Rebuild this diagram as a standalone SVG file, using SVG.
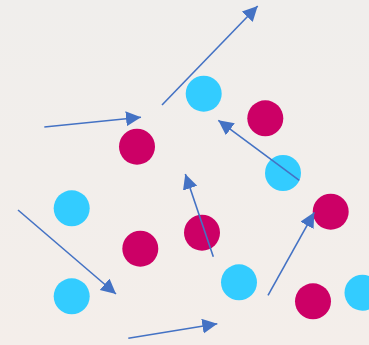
<svg xmlns="http://www.w3.org/2000/svg" width="369" height="345" viewBox="0 0 369 345">
<style>
.cy{fill:#33CCFF}
.mg{fill:#CC0066}
.ar{stroke:#4472C4;stroke-width:1.6;fill:none;marker-end:url(#ah)}
</style>
<defs>
<marker id="ah" markerUnits="userSpaceOnUse" markerWidth="16" markerHeight="16" refX="15" refY="7.5" orient="auto">
<path d="M0,0 L15,7.5 L0,15 Z" fill="#4472C4"/>
</marker>
<linearGradient id="bg" x1="0" y1="0" x2="0" y2="1">
<stop offset="0" stop-color="#F0EEEC"/>
<stop offset="1" stop-color="#F4EEEA"/>
</linearGradient>
</defs>
<rect width="369" height="345" fill="url(#bg)"/>
<g id="c1"><circle class="cy" cx="203.7" cy="93.7" r="18"/></g>
<g id="c2"><circle class="cy" cx="283" cy="173" r="18"/></g>
<g id="c3"><circle class="cy" cx="71.7" cy="208.3" r="18"/></g>
<g id="c4"><circle class="cy" cx="71.7" cy="296.3" r="18"/></g>
<g id="c5"><circle class="cy" cx="239" cy="282.3" r="18"/></g>
<g id="c6"><circle class="cy" cx="362.5" cy="292.7" r="18"/></g>
<g id="m1"><circle class="mg" cx="265.3" cy="118.3" r="18"/></g>
<g id="m2"><circle class="mg" cx="137" cy="146.7" r="18"/></g>
<g id="m3"><circle class="mg" cx="330.7" cy="211.7" r="18"/></g>
<g id="m4"><circle class="mg" cx="140.3" cy="248.7" r="18"/></g>
<g id="m5"><circle class="mg" cx="202" cy="232.7" r="18"/></g>
<g id="m6"><circle class="mg" cx="313" cy="301.3" r="18"/></g>
<g id="connectors">
<line class="ar" x1="162" y1="105" x2="257.7" y2="6"/>
<line class="ar" x1="44.3" y1="127" x2="141" y2="117.3"/>
<line class="ar" x1="299.3" y1="180.3" x2="218.3" y2="120.3"/>
<line class="ar" x1="213.3" y1="256.7" x2="185.3" y2="174"/>
<line class="ar" x1="18" y1="210" x2="116" y2="294"/>
<line class="ar" x1="268" y1="295.3" x2="314.3" y2="212.3"/>
<line class="ar" x1="128.3" y1="338.3" x2="217.3" y2="323.7"/>
</g>
</svg>
